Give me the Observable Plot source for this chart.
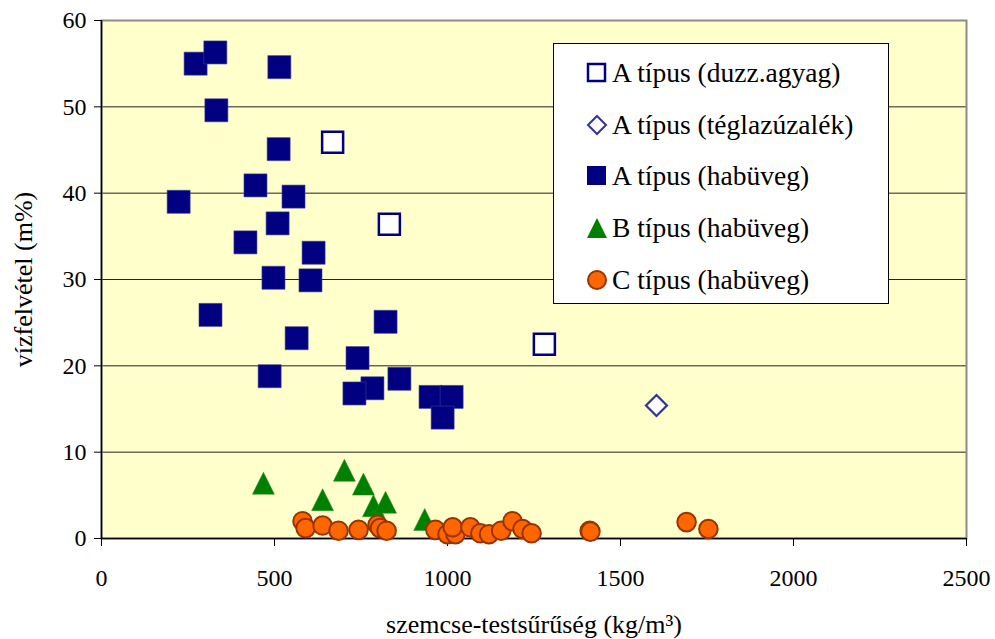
<!DOCTYPE html>
<html>
<head>
<meta charset="utf-8">
<script src="https://cdn.jsdelivr.net/npm/d3@7"></script>
<script src="https://cdn.jsdelivr.net/npm/@observablehq/plot@0.6"></script>
<style>
  html, body { margin: 0; padding: 0; background: #fff; }
  #wrap { position: relative; width: 995px; height: 639px; font-family: "Liberation Serif", "Times New Roman", serif; }
  #legend { position: absolute; left: 553px; top: 43px; width: 336px; height: 261px; background: #fff; border: 1px solid #000; box-sizing: border-box; }
  .row { position: absolute; left: 32px; height: 30px; display: flex; align-items: center; font-size: 27.5px; color: #000; white-space: nowrap; font-family: "Liberation Serif", "Times New Roman", serif; }
  .row svg { margin-right: 4px; }
</style>
</head>
<body>
<div id="wrap"></div>
<script>
// ---- data ----
const xTicks = [0, 500, 1000, 1500, 2000, 2500];
const yTicks = [0, 10, 20, 30, 40, 50, 60];
const gridY = [10, 20, 30, 40, 50];

const seriesNames = [
  "A típus (duzz.agyag)",
  "A típus (téglazúzalék)",
  "A típus (habüveg)",
  "B típus (habüveg)",
  "C típus (habüveg)"
];

const aDuzzX = [668, 832, 1280];
const aDuzzY = [45.9, 36.4, 22.5];

const aTeglaX = [1604];
const aTeglaY = [15.4];

const aHabX = [272, 329, 514, 332, 512, 445, 555, 223, 509, 416, 613, 497, 604, 315, 821, 564, 740, 486, 861, 783, 731, 951, 1012, 986];
const aHabY = [55.0, 56.3, 54.6, 49.6, 45.1, 40.9, 39.6, 39.0, 36.5, 34.3, 33.1, 30.2, 29.9, 25.9, 25.1, 23.2, 20.9, 18.8, 18.5, 17.4, 16.8, 16.4, 16.4, 14.0];

const bHabX = [468, 702, 639, 757, 786, 821, 934];
const bHabY = [6.4, 7.9, 4.5, 6.3, 3.8, 4.2, 2.2];

const cHabX = [581, 590, 639, 685, 743, 798, 805, 824, 965, 1000, 1023, 1015, 1066, 1095, 1120, 1155, 1188, 1217, 1243, 1411, 1413, 1691, 1754];
const cHabY = [2.0, 1.2, 1.5, 0.9, 1.0, 1.6, 1.2, 0.9, 1.0, 0.5, 0.5, 1.3, 1.3, 0.6, 0.5, 0.9, 2.0, 1.1, 0.6, 0.9, 0.8, 1.9, 1.1];

// ---- helpers ----
const pts = (xs, ys) => xs.map((x, i) => ({x, y: ys[i]}));
const half = size => Math.sqrt(size / Math.PI);
const squareSym = {draw(c, size) { const r = half(size); c.moveTo(-r, -r); c.lineTo(r, -r); c.lineTo(r, r); c.lineTo(-r, r); c.closePath(); }};
const diamondSym = {draw(c, size) { const r = half(size); c.moveTo(0, -r); c.lineTo(r, 0); c.lineTo(0, r); c.lineTo(-r, 0); c.closePath(); }};
const triSym = {draw(c, size) { const r = half(size); c.moveTo(0, -r); c.lineTo(r, r); c.lineTo(-r, r); c.closePath(); }};

const font = "Liberation Serif, Times New Roman, serif";

const chart = Plot.plot({
  width: 995,
  height: 639,
  marginLeft: 101,
  marginRight: 29,
  marginTop: 20,
  marginBottom: 101,
  style: {fontFamily: font, color: "#000", background: "transparent", overflow: "visible"},
  x: {domain: [0, 2500]},
  y: {domain: [0, 60]},
  marks: [
    Plot.frame({fill: "#FFFFCC"}),
    Plot.ruleY(gridY, {stroke: "#222", strokeWidth: 1}),
    Plot.frame({stroke: "#8c8c8c", strokeWidth: 2}),
    Plot.ruleY([0], {stroke: "#000", strokeWidth: 1.5}),
    Plot.ruleX([0], {stroke: "#000", strokeWidth: 1.5}),
    Plot.axisX({ticks: xTicks, tickFormat: d3.format("d"), tickSize: 8, tickPadding: 22, fontSize: 24, label: null}),
    Plot.axisX({ticks: [], label: "szemcse-testsűrűség (kg/m³)", labelAnchor: "center", labelArrow: "none", labelOffset: 94, fontSize: 26}),
    Plot.axisY({ticks: yTicks, tickFormat: d3.format("d"), tickSize: 7, tickPadding: 8, fontSize: 24, label: null}),
    Plot.axisY({ticks: [], label: "vízfelvétel (m%)", labelAnchor: "center", labelArrow: "none", labelOffset: 88, fontSize: 26}),
    Plot.dot(pts(aHabX, aHabY), {x: "x", y: "y", symbol: squareSym, r: 11.5, fill: "#000080", stroke: "#3a3a9a", strokeWidth: 0.6}),
    Plot.dot(pts(aDuzzX, aDuzzY), {x: "x", y: "y", symbol: squareSym, r: 10.5, fill: "#fff", stroke: "#000080", strokeWidth: 2.5}),
    Plot.dot(pts(aTeglaX, aTeglaY), {x: "x", y: "y", symbol: diamondSym, r: 10.5, fill: "#fff", stroke: "#333399", strokeWidth: 2.2}),
    Plot.dot(pts(bHabX, bHabY), {x: "x", y: "y", symbol: triSym, r: 11, fill: "#008000", stroke: "#2a8a2a", strokeWidth: 0.5}),
    Plot.dot(pts(cHabX, cHabY), {x: "x", y: "y", r: 9.3, fill: "#FF6600", stroke: "#993300", strokeWidth: 2})
  ]
});

const wrap = document.getElementById("wrap");
wrap.appendChild(chart);

// ---- legend (HTML) ----
const legendSyms = [
  '<svg width="22" height="22"><rect x="2" y="2" width="17" height="17" fill="#fff" stroke="#000080" stroke-width="2.5"/></svg>',
  '<svg width="22" height="22"><path d="M11,2L20,11L11,20L2,11Z" fill="#fff" stroke="#333399" stroke-width="2"/></svg>',
  '<svg width="22" height="22"><rect x="1" y="1" width="19" height="19" fill="#000080"/></svg>',
  '<svg width="22" height="22"><path d="M11,1L21,21L1,21Z" fill="#008000"/></svg>',
  '<svg width="22" height="22"><circle cx="11" cy="11" r="9" fill="#FF6600" stroke="#993300" stroke-width="2"/></svg>'
];
const legend = document.createElement("div");
legend.id = "legend";
seriesNames.forEach((name, i) => {
  const row = document.createElement("div");
  row.className = "row";
  row.style.top = (14 + i * 51.7) + "px";
  row.innerHTML = legendSyms[i] + "<span>" + name + "</span>";
  legend.appendChild(row);
});
wrap.appendChild(legend);
</script>
</body>
</html>
